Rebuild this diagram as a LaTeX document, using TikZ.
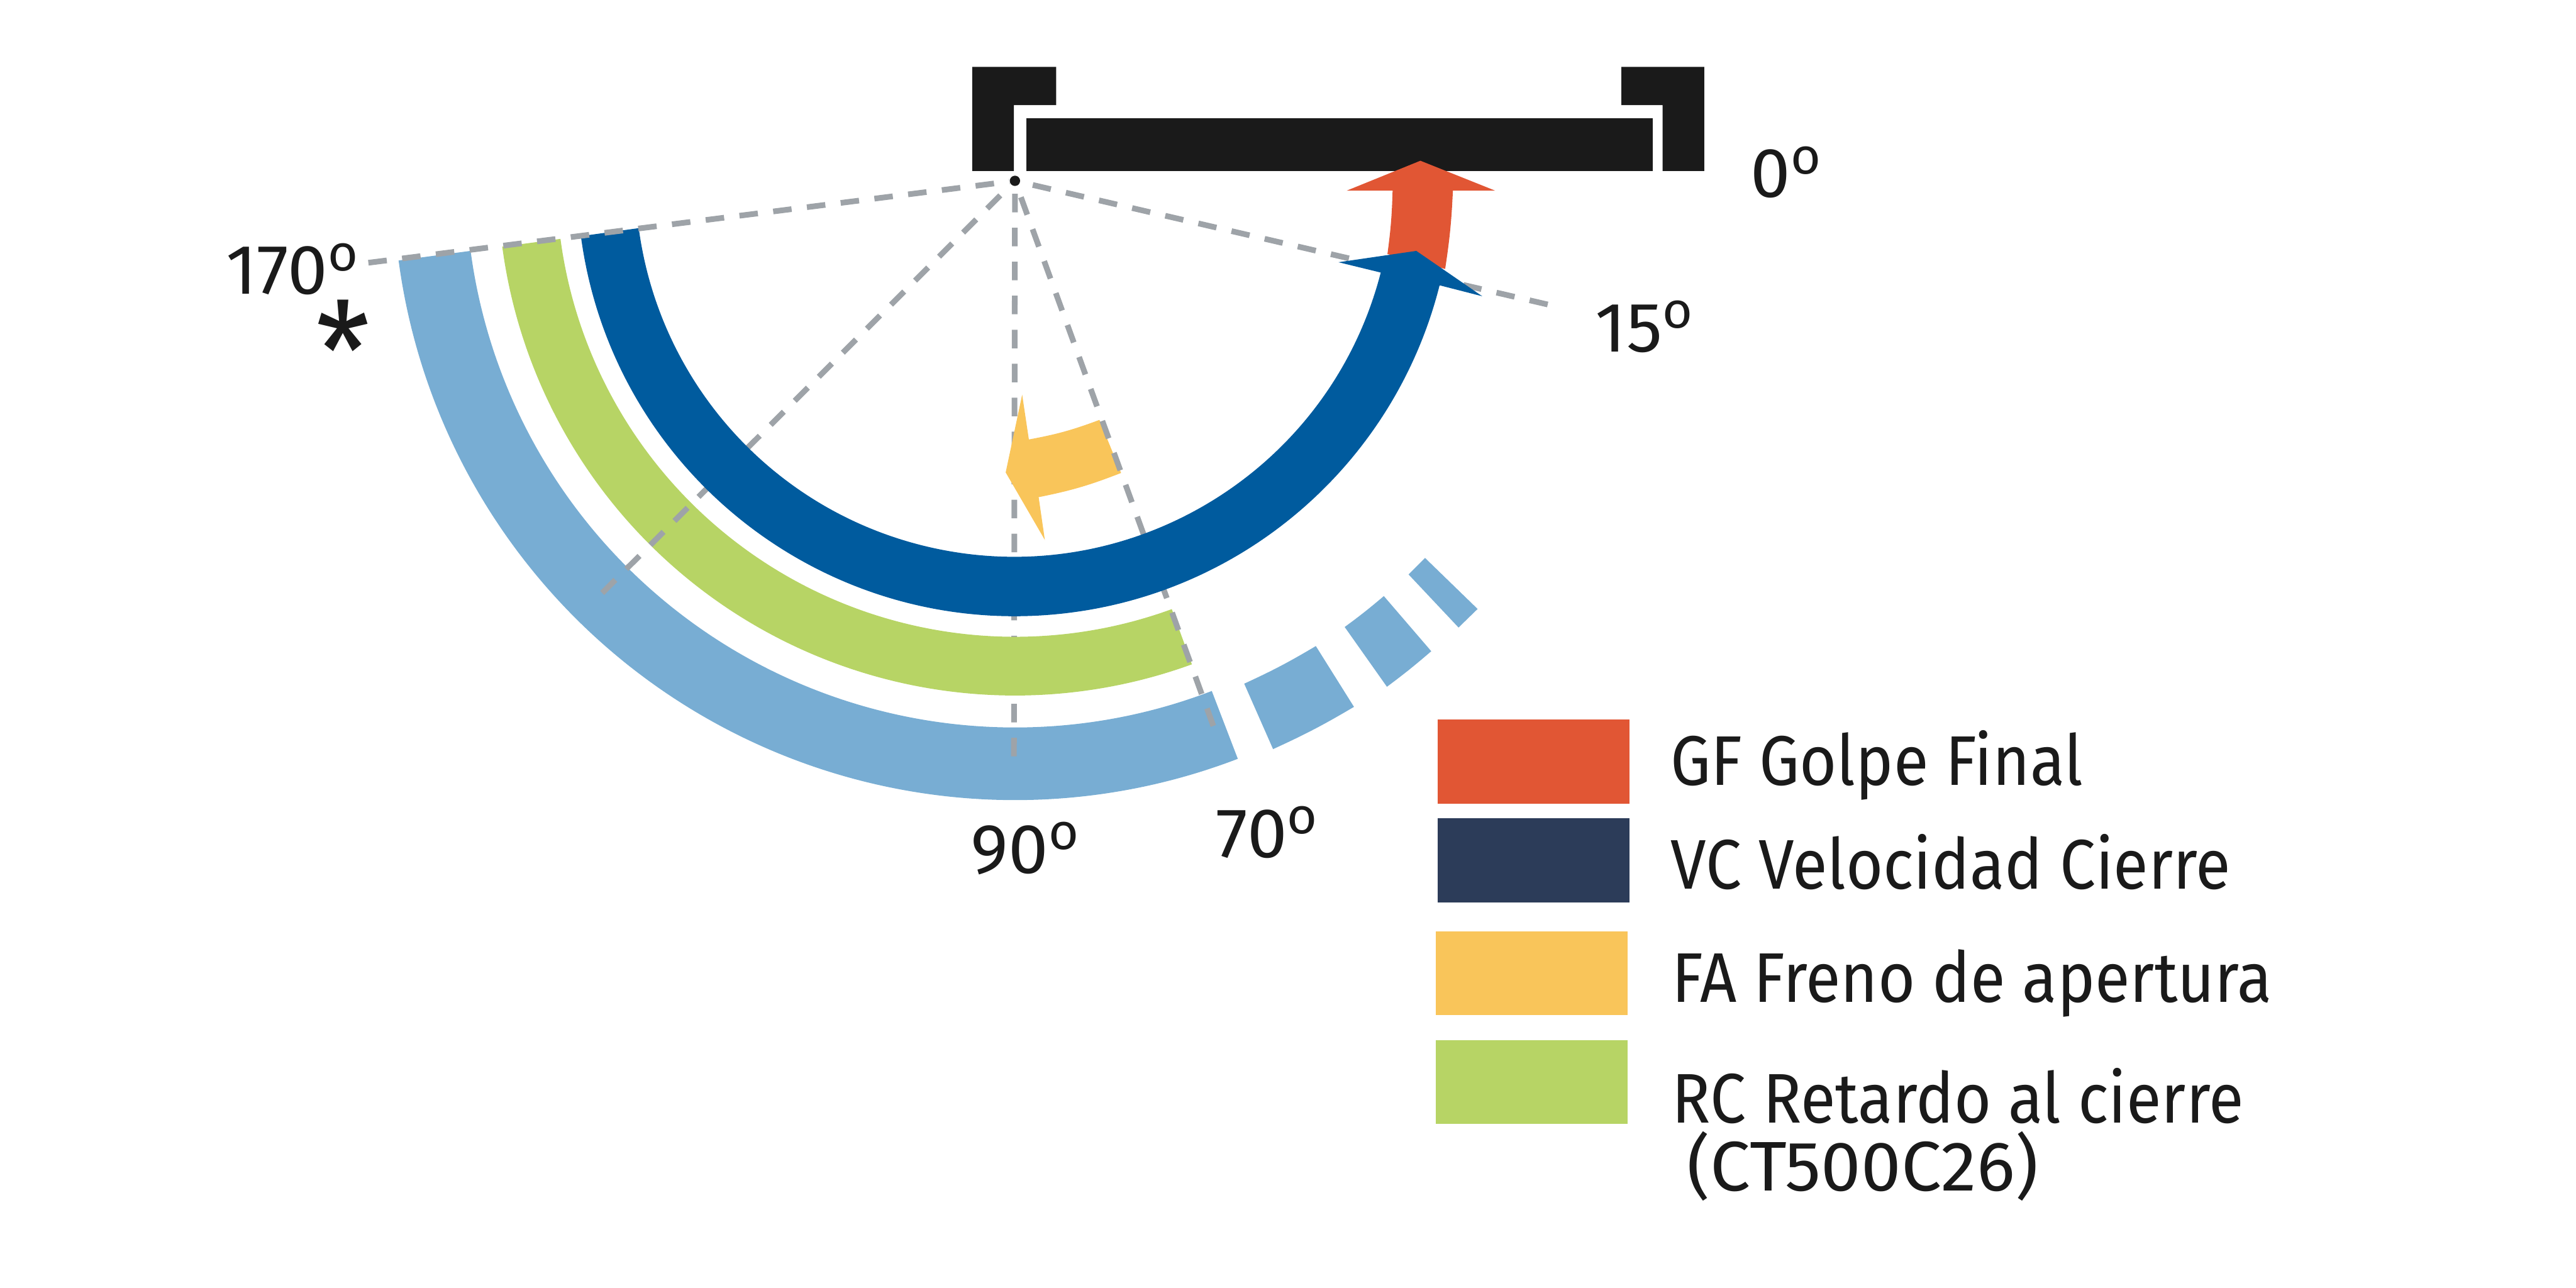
\documentclass[tikz,border=0pt]{standalone}
\usepackage{fontspec}
\setmainfont[FakeStretch=0.91]{Fira Sans}
\newfontfamily\widefont[FakeStretch=1.02]{Fira Sans}
\definecolor{cBlack}{HTML}{1A1A1A}
\definecolor{cRed}{HTML}{E15634}
\definecolor{cNavy}{HTML}{2C3C59}
\definecolor{cYellow}{HTML}{F9C55A}
\definecolor{cGreen}{HTML}{B7D465}
\definecolor{cSky}{HTML}{78ADD3}
\definecolor{cBlue}{HTML}{005B9E}
\definecolor{cDash}{HTML}{9EA3A8}
\newcommand{\gradsup}{\raisebox{0.46cm}{\fontsize{28}{28}\selectfont o}}
\begin{document}
\begin{tikzpicture}[x=1cm,y=1cm,font=\fontsize{38.8}{44}\selectfont,every node/.style={inner sep=0pt},lbl/.style={anchor=base west,text=cBlack},widelbl/.style={lbl,font=\widefont\fontsize{38.8}{44}\selectfont},dashln/.style={draw=cDash,line width=0.11cm,dash pattern=on 0.36cm off 0.3cm},swatch/.style={anchor=north west,minimum width=3.72cm,minimum height=1.63cm}]
\useasboundingbox (0,0) rectangle (50,-25);
\fill[cBlack] (18.87,-1.30) -- (20.50,-1.30) -- (20.50,-2.04) -- (19.68,-2.04) -- (19.68,-3.32) -- (18.87,-3.32) -- cycle;
\fill[cBlack] (33.08,-1.30) -- (31.47,-1.30) -- (31.47,-2.04) -- (32.27,-2.04) -- (32.27,-3.32) -- (33.08,-3.32) -- cycle;
\fill[cBlack] (19.92,-2.30) rectangle (32.08,-3.32);
\fill[cRed] (27.57,-3.12) -- (26.14,-3.70) -- (27.03,-3.70) to[bend left=3] (26.93,-4.93) -- (28.05,-5.22) to[bend right=3] (28.20,-3.70) -- (29.02,-3.70) -- cycle;
\coordinate (e170) at (7.15,-5.10); \coordinate (e15) at (30.04,-5.91); \coordinate (e45) at (11.69,-11.51); \coordinate (e90) at (19.68,-14.68); \coordinate (e70) at (23.55,-14.09);
\node[circle,fill=cBlack,minimum size=0.2cm] (pivot) at (19.70,-3.51) {};
\begin{scope}[shift={(19.70,-3.46)}]
\fill[cSky] (187.6:12.07) arc[start angle=187.6,end angle=291,radius=12.07] -- (291:10.66) arc[start angle=291,end angle=187.6,radius=10.66] -- cycle;
\end{scope}
\fill[cSky] (24.15,-13.27) to[bend right=3] (25.54,-12.54) -- (26.28,-13.72) to[bend left=3] (24.71,-14.54) -- cycle;
\fill[cSky] (26.10,-12.17) to[bend right=2] (26.86,-11.57) -- (27.78,-12.64) to[bend left=2] (26.92,-13.33) -- cycle;
\fill[cSky] (27.34,-11.15) -- (27.66,-10.83) -- (28.68,-11.82) -- (28.31,-12.18) -- cycle;
\draw[dashln] (e90) -- (pivot);
\begin{scope}[shift={(19.70,-3.46)}]
\fill[cGreen] (187.6:10.04) arc[start angle=187.6,end angle=290,radius=10.04] -- (290:8.90) arc[start angle=290,end angle=187.6,radius=8.90] -- cycle;
\end{scope}
\fill[cYellow] (19.84,-7.66) -- (19.52,-9.17) -- (20.28,-10.48) -- (20.16,-9.65) to[bend right=5] (21.76,-9.18) -- (21.34,-8.15) to[bend left=5] (19.97,-8.53) -- cycle;
\draw[dashln] (e45) -- (pivot); \draw[dashln] (e70) -- (pivot); \draw[dashln] (e15) -- (pivot);
\begin{scope}[shift={(19.70,-3.46)}]
\fill[cBlue] (187.6:8.50) arc[start angle=187.6,end angle=345.85,radius=8.50] -- (9.07,-2.29) -- (7.79,-1.41) -- (6.28,-1.63) -- (7.10,-1.83) arc[start angle=345.55,end angle=187.6,radius=7.35] -- cycle;
\end{scope}
\draw[dashln] (e170) -- (pivot);
\node[widelbl] (a0) at (33.97,-3.83) {0\gradsup};
\node[widelbl] (a15) at (30.96,-6.83) {15\gradsup};
\node[widelbl] (a170) at (4.38,-5.71) {170\gradsup};
\node[widelbl] (a90) at (18.84,-16.95) {90\gradsup};
\node[widelbl] (a70) at (23.60,-16.64) {70\gradsup};
\node[text=cBlack,font=\fontsize{75}{75}\selectfont] (star) at (6.66,-6.79) {*};
\node[swatch,fill=cRed] (sGF) at (27.90,-13.96) {}; \node[swatch,fill=cNavy] (sVC) at (27.90,-15.88) {};
\node[swatch,fill=cYellow] (sFA) at (27.86,-18.07) {}; \node[swatch,fill=cGreen] (sRC) at (27.86,-20.18) {};
\node[lbl] (tGF) at (32.42,-15.24) {GF Golpe Final};
\node[lbl] (tVC) at (32.42,-17.25) {VC Velocidad Cierre};
\node[lbl] (tFA) at (32.45,-19.45) {FA Freno de apertura};
\node[lbl] (tRC) at (32.45,-21.80) {RC Retardo al cierre};
\node[widelbl] (tCT) at (32.74,-23.11) {(CT500C26)};
\end{tikzpicture}
\end{document}
